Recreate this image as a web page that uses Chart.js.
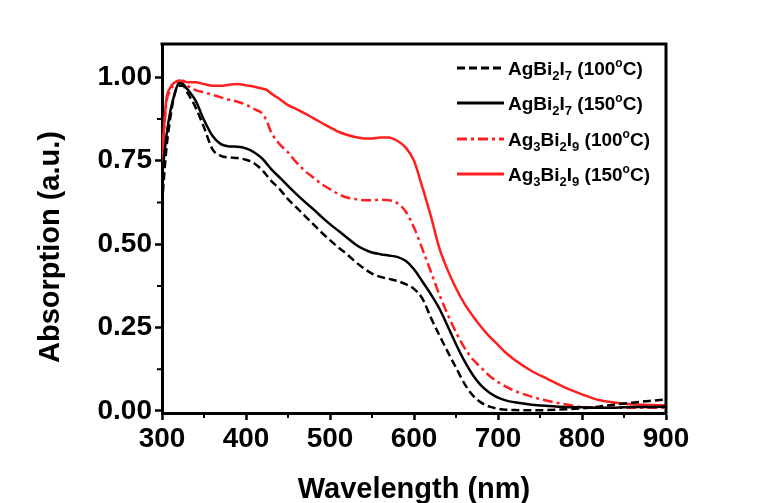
<!DOCTYPE html>
<html>
<head>
<meta charset="utf-8">
<script src="https://cdn.jsdelivr.net/npm/chart.js@4"></script>
<style>
  body { margin: 0; background: #fff; }
  #wrap { width: 761px; height: 503px; }
</style>
</head>
<body>
<div id="wrap"><canvas id="chart" width="761" height="503"></canvas></div>
<script>
// --- dados ---
const wavelength = [300,305,310,315,320,325,330,340,350,360,370,380,390,400,410,420,425,
  430,440,450,460,470,480,490,500,510,520,530,540,550,560,570,580,590,600,610,620,630,640,650,660,670,680,690,700,710,
  720,740,760,780,800,820,840,860,880,900];

const agbi100 = [0.62,0.78,0.88,0.95,0.975,0.975,0.955,0.91,0.85,0.785,0.765,0.76,0.758,0.753,0.742,0.72,0.705,
  0.69,0.665,0.635,0.61,0.585,0.56,0.535,0.512,0.49,0.47,0.448,0.428,0.412,0.402,0.396,0.39,0.38,0.366,0.337,0.28,0.228,0.178,0.13,0.082,0.047,0.025,0.013,0.007,0.004,
  0.003,0.002,0.003,0.005,0.008,0.013,0.02,0.025,0.03,0.035];

const agbi150 = [0.70,0.82,0.90,0.95,0.982,0.98,0.965,0.93,0.872,0.825,0.80,0.793,0.792,0.787,0.775,0.755,0.74,
  0.725,0.70,0.675,0.65,0.627,0.605,0.582,0.56,0.54,0.52,0.50,0.485,0.475,0.47,0.466,0.462,0.45,0.425,0.388,0.35,0.308,0.255,0.20,0.15,0.108,0.076,0.055,0.04,0.031,
  0.026,0.019,0.015,0.012,0.011,0.01,0.01,0.012,0.012,0.013];

const ag3bi100 = [0.74,0.92,0.96,0.98,0.99,0.985,0.975,0.962,0.955,0.948,0.94,0.933,0.927,0.918,0.905,0.89,0.867,
  0.835,0.80,0.775,0.745,0.72,0.70,0.68,0.665,0.65,0.64,0.635,0.632,0.632,0.633,0.632,0.623,0.598,0.55,0.485,0.418,0.35,0.29,0.236,0.19,0.155,0.13,0.105,0.087,0.072,
  0.06,0.043,0.03,0.02,0.012,0.01,0.01,0.01,0.01,0.01];

const ag3bi150 = [0.76,0.93,0.97,0.985,0.99,0.99,0.985,0.985,0.98,0.975,0.975,0.978,0.98,0.976,0.972,0.966,0.962,
  0.952,0.935,0.917,0.905,0.892,0.878,0.864,0.85,0.837,0.828,0.821,0.817,0.817,0.82,0.82,0.81,0.79,0.75,0.67,0.585,0.49,0.423,0.368,0.322,0.285,0.252,0.223,0.198,0.173,
  0.153,0.12,0.095,0.07,0.05,0.033,0.025,0.02,0.018,0.017];

const xTicks = [300,400,500,600,700,800,900];
const xMinor = [350,450,550,650,750,850];
const yTicks = [0,0.25,0.5,0.75,1.0];
const yMinor = [0.125,0.375,0.625,0.875];

// legenda com índices (subscrito / sobrescrito)
const legendLabels = [
  [['AgBi'],['2','sub'],['I'],['7','sub'],[' (100'],['o','sup'],['C)']],
  [['AgBi'],['2','sub'],['I'],['7','sub'],[' (150'],['o','sup'],['C)']],
  [['Ag'],['3','sub'],['Bi'],['2','sub'],['I'],['9','sub'],[' (100'],['o','sup'],['C)']],
  [['Ag'],['3','sub'],['Bi'],['2','sub'],['I'],['9','sub'],[' (150'],['o','sup'],['C)']]
];
const RED = '#ff1f1f';
const seriesColors = ['#000000','#000000',RED,RED];
const seriesDash = [[8,4],[],[10,4,3,4],[]];

const FONT = "'Liberation Sans', Arial, sans-serif";

function toPoints(values) {
  return wavelength.map((w, i) => ({ x: w, y: values[i] }));
}

// --- plugin: moldura, ticks menores, título Y e legenda ---
const framePlugin = {
  id: 'frame',
  afterDraw(chart) {
    const { ctx, chartArea: a, scales: { x, y } } = chart;
    ctx.save();
    ctx.strokeStyle = '#000';
    ctx.lineWidth = 3;
    ctx.beginPath();
    ctx.moveTo(a.left - 1.5, a.top);
    ctx.lineTo(a.right, a.top);
    ctx.lineTo(a.right, a.bottom + 1.5);
    ctx.stroke();

    // ticks menores
    ctx.lineWidth = 2;
    ctx.beginPath();
    xMinor.forEach(v => {
      const px = x.getPixelForValue(v);
      ctx.moveTo(px, a.bottom);
      ctx.lineTo(px, a.bottom + 5);
    });
    yMinor.forEach(v => {
      const py = y.getPixelForValue(v);
      ctx.moveTo(a.left, py);
      ctx.lineTo(a.left - 5, py);
    });
    ctx.stroke();

    // título do eixo Y
    ctx.save();
    ctx.translate(51, 247);
    ctx.rotate(-Math.PI / 2);
    ctx.font = `bold 29px ${FONT}`;
    ctx.fillStyle = '#000';
    ctx.textAlign = 'center';
    ctx.textBaseline = 'middle';
    ctx.fillText('Absorption (a.u.)', 0, 0);
    ctx.restore();

    // legenda
    const rows = [68, 103, 139, 174];
    legendLabels.forEach((parts, i) => {
      const yc = rows[i];
      ctx.strokeStyle = seriesColors[i];
      ctx.lineWidth = 3;
      ctx.setLineDash(seriesDash[i]);
      ctx.beginPath();
      ctx.moveTo(457, yc);
      ctx.lineTo(504, yc);
      ctx.stroke();
      ctx.setLineDash([]);

      let tx = 508;
      const base = yc + 7;
      ctx.fillStyle = '#000';
      ctx.textBaseline = 'alphabetic';
      ctx.textAlign = 'left';
      parts.forEach(([t, kind]) => {
        let size = 19, dy = 0;
        if (kind === 'sub') { size = 13; dy = 5; }
        if (kind === 'sup') { size = 12; dy = -8; }
        ctx.font = `bold ${size}px ${FONT}`;
        ctx.fillText(t, tx, base + dy);
        tx += ctx.measureText(t).width;
      });
    });
    ctx.restore();
  }
};

new Chart(document.getElementById('chart'), {
  type: 'line',
  data: {
    datasets: [
      { label: 'AgBi2I7 (100°C)', data: toPoints(agbi100), borderColor: '#000', borderDash: seriesDash[0], borderWidth: 2.5 },
      { label: 'AgBi2I7 (150°C)', data: toPoints(agbi150), borderColor: '#000', borderWidth: 2.5 },
      { label: 'Ag3Bi2I9 (100°C)', data: toPoints(ag3bi100), borderColor: RED, borderDash: seriesDash[2], borderWidth: 2.5 },
      { label: 'Ag3Bi2I9 (150°C)', data: toPoints(ag3bi150), borderColor: RED, borderWidth: 2.5 }
    ]
  },
  options: {
    responsive: false,
    animation: false,
    layout: { padding: { top: 44, right: 95, left: 0, bottom: 0 } },
    elements: { point: { radius: 0 }, line: { cubicInterpolationMode: 'monotone', fill: false } },
    plugins: { legend: { display: false }, tooltip: { enabled: false } },
    scales: {
      x: {
        type: 'linear', min: 300, max: 900,
        afterFit: s => { s.height = 90; },
        afterBuildTicks: s => { s.ticks = xTicks.map(v => ({ value: v })); },
        grid: { display: true, drawOnChartArea: false, drawTicks: true, tickLength: 7, tickWidth: 2.5, color: '#000' },
        border: { display: true, width: 3, color: '#000' },
        ticks: { color: '#000', padding: 2, font: { family: FONT, size: 28, weight: 'bold' }, maxRotation: 0 },
        title: { display: true, text: 'Wavelength (nm)', color: '#000', font: { family: FONT, size: 29, weight: 'bold' }, padding: { top: 0, bottom: -4 } }
      },
      y: {
        min: -0.006, max: 1.1,
        afterFit: s => { s.width = 162; },
        afterBuildTicks: s => { s.ticks = yTicks.map(v => ({ value: v })); },
        grid: { display: true, drawOnChartArea: false, drawTicks: true, tickLength: 7, tickWidth: 2.5, color: '#000' },
        border: { display: true, width: 3, color: '#000' },
        ticks: { color: '#000', padding: 3, font: { family: FONT, size: 28, weight: 'bold' }, callback: v => v.toFixed(2) },
        title: { display: false }
      }
    }
  },
  plugins: [framePlugin]
});
</script>
</body>
</html>
